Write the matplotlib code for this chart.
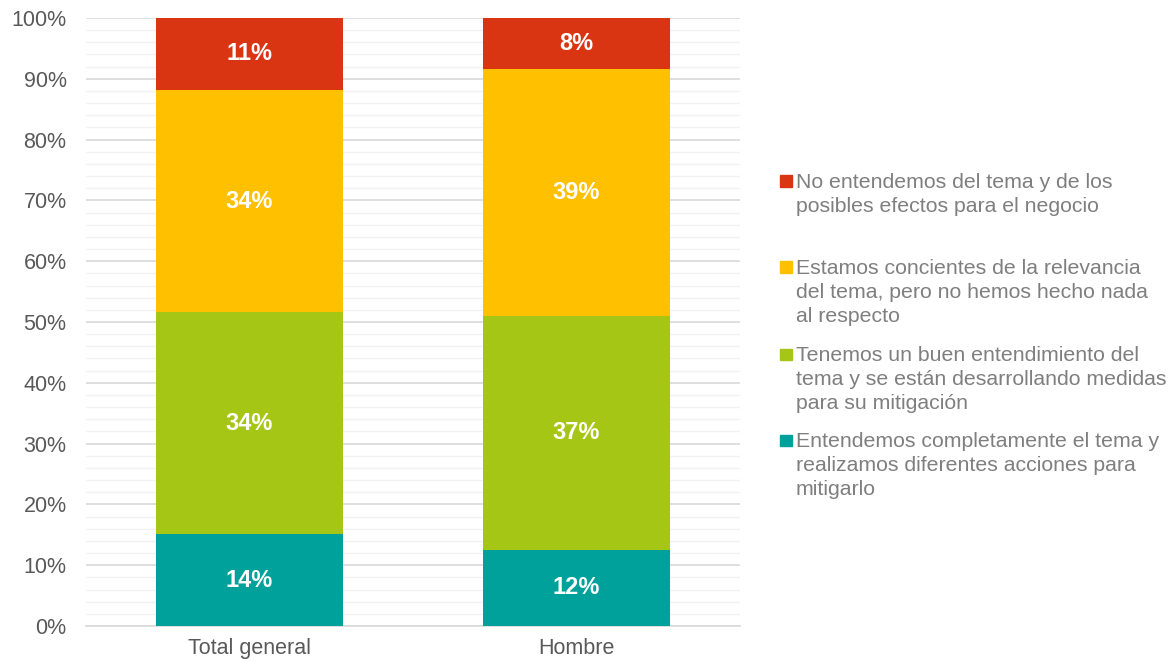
import matplotlib
matplotlib.use("Agg")
import matplotlib.pyplot as plt
import numpy as np
from matplotlib.patches import Rectangle
from matplotlib.ticker import MultipleLocator, PercentFormatter

plt.rcParams["font.family"] = ["Liberation Sans", "DejaVu Sans"]

# Survey results (percent of respondents), stacked bottom to top
categories = ["Total general", "Hombre"]
series_names = [
    "Entendemos completamente el tema y\nrealizamos diferentes acciones para\nmitigarlo",
    "Tenemos un buen entendimiento del\ntema y se están desarrollando medidas\npara su mitigación",
    "Estamos concientes de la relevancia\ndel tema, pero no hemos hecho nada\nal respecto",
    "No entendemos del tema y de los\nposibles efectos para el negocio",
]
completo = [14, 12]
buen_entendimiento = [34, 37]
conscientes = [34, 39]
no_entendemos = [11, 8]
colors = ["#00A19A", "#A6C615", "#FFC000", "#DA3512"]

values = np.array([completo, buen_entendimiento, conscientes, no_entendemos], dtype=float)
# 100% stacked: each column is scaled to its own total
shares = values / values.sum(axis=0) * 100

W, H = 1170, 662
fig = plt.figure(figsize=(W / 100, H / 100), dpi=100)
ax = fig.add_axes([86 / W, 36 / H, (740 - 86) / W, (626 - 18) / H])

x = np.arange(len(categories))
bottom = np.zeros(len(categories))
for vals, share, col in zip(values, shares, colors):
    ax.bar(x, share, bottom=bottom, width=0.57, color=col, zorder=3)
    for xi, b, s, v in zip(x, bottom, share, vals):
        ax.text(xi, b + s / 2, f"{v:.0f}%", ha="center", va="center",
                color="white", fontsize=17, fontweight="bold", zorder=4)
    bottom += share

ax.set_xlim(-0.5, 1.5)
ax.set_ylim(0, 100)
ax.yaxis.set_major_locator(MultipleLocator(10))
ax.yaxis.set_minor_locator(MultipleLocator(2))
ax.yaxis.set_major_formatter(PercentFormatter(decimals=0))
ax.grid(axis="y", which="major", color="#D9D9D9", linewidth=1.2, zorder=1)
ax.grid(axis="y", which="minor", color="#F2F2F2", linewidth=1.0, zorder=0)
ax.set_xticks(x)
ax.set_xticklabels(categories)
ax.tick_params(axis="both", which="both", length=0, labelsize=15.5, labelcolor="#595959")
ax.tick_params(axis="y", pad=14)
ax.tick_params(axis="x", pad=8.5)
for side in ("left", "right", "top"):
    ax.spines[side].set_visible(False)
ax.spines["bottom"].set_color("#D9D9D9")
ax.spines["bottom"].set_linewidth(1.2)

# Legend drawn on the figure, top entry first (reverse of stacking order)
entry_baselines = [188, 274, 361, 447]
line_step = 24
for name, col, base in zip(series_names[::-1], colors[::-1], entry_baselines):
    fig.add_artist(Rectangle((780 / W, 1 - (base - 1) / H), 11.5 / W, 11.5 / H,
                             transform=fig.transFigure, color=col))
    for k, line in enumerate(name.split("\n")):
        fig.text(796 / W, 1 - (base + k * line_step) / H, line,
                 ha="left", va="baseline", fontsize=15.3, color="#7F7F7F")

fig.savefig("out.png", dpi=100)
